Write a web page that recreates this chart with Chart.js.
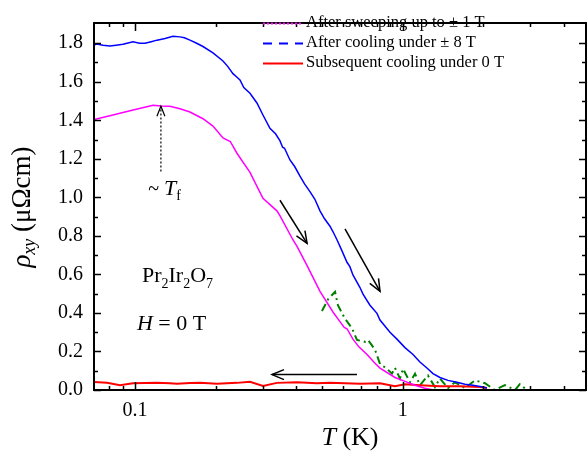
<!DOCTYPE html>
<html><head><meta charset="utf-8">
<script src="https://cdn.jsdelivr.net/npm/chart.js@4.4.1/dist/chart.umd.min.js"></script>
<style>html,body{margin:0;padding:0;background:#fff}#wrap{width:587px;height:454px;position:relative}</style>
</head><body><div id="wrap"><canvas id="c"></canvas></div>
<script>
// ---------- data ----------
const blueT=[0.0703,0.0719,0.0760,0.0806,0.0850,0.0902,0.0983,0.104,0.109,0.115,0.1209,0.1295,0.1387,0.1473,0.1530,0.1605,0.170,0.1795,0.1956,0.2132,0.222,0.2323,0.240,0.2467,0.255,0.2689,0.2855,0.300,0.3193,0.335,0.3479,0.356,0.362,0.3793,0.395,0.4134,0.43,0.4504,0.47,0.4911,0.51,0.5351,0.55,0.5683,0.59,0.6194,0.635,0.652,0.6927,0.711,0.7548,0.8017,0.8228,0.8965,0.952,1.02,1.093,1.16,1.232,1.298,1.378,1.476,1.595,1.709,1.83,1.945,2.065];
const blueRho=[1.79,1.796,1.79,1.786,1.79,1.795,1.807,1.80,1.80,1.808,1.816,1.825,1.836,1.833,1.828,1.816,1.80,1.783,1.75,1.708,1.68,1.642,1.625,1.609,1.57,1.54,1.49,1.43,1.358,1.33,1.294,1.26,1.255,1.194,1.16,1.11,1.07,1.03,0.99,0.93,0.89,0.85,0.82,0.78,0.73,0.663,0.64,0.597,0.532,0.4975,0.44,0.398,0.363,0.30,0.264,0.22,0.184,0.145,0.114,0.085,0.065,0.05,0.04,0.03,0.025,0.018,0.01];

const magT=[0.0703,0.0806,0.0958,0.1168,0.125,0.135,0.1473,0.1605,0.1795,0.1956,0.2132,0.227,0.2404,0.2689,0.3007,0.339,0.3479,0.389,0.403,0.439,0.4911,0.549,0.583,0.605,0.6194,0.652,0.686,0.736,0.788,0.8228,0.936,1.02,1.112,1.2,1.3];
const magRho=[1.404,1.424,1.449,1.478,1.474,1.473,1.46,1.443,1.408,1.37,1.308,1.29,1.229,1.13,0.995,0.93,0.905,0.78,0.746,0.647,0.512,0.405,0.355,0.325,0.318,0.264,0.224,0.184,0.139,0.114,0.065,0.045,0.025,0.01,0];

const redT=[0.0703,0.0787,0.0879,0.0983,0.109,0.1209,0.135,0.1435,0.1605,0.175,0.2026,0.2404,0.2689,0.3007,0.339,0.403,0.478,0.535,0.609,0.6927,0.8228,0.936,1.02,1.16,1.378,1.637,1.945,2.065];
const redRho=[0.041,0.038,0.025,0.035,0.036,0.037,0.035,0.033,0.036,0.038,0.033,0.037,0.043,0.021,0.037,0.04,0.035,0.038,0.035,0.032,0.035,0.02,0.03,0.025,0.02,0.02,0.015,0.01];

const greenT=[0.4994,0.526,0.559,0.573,0.609,0.647,0.675,0.723,0.742,0.788,0.823,0.874,0.912,0.936,0.977,1.003,1.065,1.112,1.16,1.243,1.32,1.378,1.476,1.568,1.709,1.862,2.03,2.21,2.41,2.63,2.74,2.91];
const greenRho=[0.41,0.47,0.51,0.44,0.37,0.32,0.26,0.25,0.26,0.21,0.135,0.11,0.085,0.115,0.06,0.11,0.04,0.085,0.025,0.075,0.015,0.06,0.01,0.04,0.01,0.05,0.035,0,0.025,0,0.03,0];

const seriesLabels=['After sweeping up to \u00b1 1 T','After cooling under \u00b1 8 T','Subsequent cooling under 0 T'];
const xMajorTicks=[0.1,1];
const xMinorTicks=[0.08,0.09,0.2,0.3,0.4,0.5,0.6,0.7,0.8,0.9,2,3,4];
const yMajorTicks=[0,0.2,0.4,0.6,0.8,1.0,1.2,1.4,1.6,1.8];
const yMinorTicks=[0.1,0.3,0.5,0.7,0.9,1.1,1.3,1.5,1.7];

// annotations in data coordinates
const arrows=[{from:[0.348,0.985],to:[0.4395,0.761]},{from:[0.609,0.836],to:[0.823,0.512]},{from:[0.675,0.08],to:[0.325,0.08]}];
const tfArrow={from:[0.125,1.134],to:[0.125,1.473]};

// ---------- chart ----------
const FONT='"Liberation Serif","Times New Roman",serif';
Chart.defaults.font.family=FONT;
Chart.defaults.color='#000';
const pts=(t,r)=>t.map((v,i)=>({x:v,y:r[i]}));

function runsWidth(ctx,runs){let w=0;for(const r of runs){ctx.font=(r.it?'italic ':'')+r.size+'px '+FONT;w+=ctx.measureText(r.t).width;}return w;}
function drawRuns(ctx,runs,x,y){for(const r of runs){ctx.font=(r.it?'italic ':'')+r.size+'px '+FONT;ctx.fillText(r.t,x,y+(r.dy||0));x+=ctx.measureText(r.t).width;}}
function arrow(ctx,x0,y0,x1,y1,L,W){
  ctx.beginPath();ctx.moveTo(x0,y0);ctx.lineTo(x1,y1);ctx.stroke();
  const a=Math.atan2(y1-y0,x1-x0);ctx.setLineDash([]);
  ctx.beginPath();
  ctx.moveTo(x1-L*Math.cos(a)+W*Math.sin(a),y1-L*Math.sin(a)-W*Math.cos(a));
  ctx.lineTo(x1,y1);
  ctx.lineTo(x1-L*Math.cos(a)-W*Math.sin(a),y1-L*Math.sin(a)+W*Math.cos(a));
  ctx.stroke();
}

const deco={id:'deco',afterDraw(chart){
  const ctx=chart.ctx,xs=chart.scales.x,ys=chart.scales.y,a=chart.chartArea;
  ctx.save();
  ctx.strokeStyle='#000';ctx.fillStyle='#000';
  // frame
  ctx.lineWidth=2;ctx.strokeRect(a.left,a.top,a.right-a.left,a.bottom-a.top);
  // inward ticks
  ctx.lineWidth=1.5;ctx.beginPath();
  const xt=(v,l)=>{const p=Math.round(xs.getPixelForValue(v))+0.5;ctx.moveTo(p,a.bottom);ctx.lineTo(p,a.bottom-l);ctx.moveTo(p,a.top);ctx.lineTo(p,a.top+l);};
  const yt=(v,l)=>{const p=Math.round(ys.getPixelForValue(v))+0.5;ctx.moveTo(a.left,p);ctx.lineTo(a.left+l,p);ctx.moveTo(a.right,p);ctx.lineTo(a.right-l,p);};
  xMajorTicks.forEach(v=>xt(v,8));xMinorTicks.forEach(v=>xt(v,4));
  yMajorTicks.forEach(v=>yt(v,7));yMinorTicks.forEach(v=>yt(v,4));
  ctx.stroke();
  // arrows
  ctx.lineWidth=1.5;
  for(const ar of arrows){const p0=[xs.getPixelForValue(ar.from[0]),ys.getPixelForValue(ar.from[1])],p1=[xs.getPixelForValue(ar.to[0]),ys.getPixelForValue(ar.to[1])];arrow(ctx,p0[0],p0[1],p1[0],p1[1],12,5);}
  ctx.lineWidth=1.2;ctx.setLineDash([2,2]);
  arrow(ctx,xs.getPixelForValue(tfArrow.from[0]),ys.getPixelForValue(tfArrow.from[1]),xs.getPixelForValue(tfArrow.to[0]),ys.getPixelForValue(tfArrow.to[1]),10,4);
  ctx.setLineDash([]);
  // legend
  const ds=chart.data.datasets;
  const legDash=[[2,2],[9,7],[]];
  ctx.textBaseline='middle';
  for(let i=0;i<3;i++){
    const y=23+i*20;
    ctx.strokeStyle=ds[i].borderColor;ctx.lineWidth=2;ctx.setLineDash(legDash[i]);
    ctx.beginPath();ctx.moveTo(263,y+0.5);ctx.lineTo(303,y+0.5);ctx.stroke();
    ctx.setLineDash([]);ctx.font='16.5px '+FONT;ctx.fillStyle='#000';ctx.fillText(seriesLabels[i],306,y);
  }
  ctx.textBaseline='alphabetic';ctx.textAlign='left';
  // sample label texts
  const P=(t,r)=>[xs.getPixelForValue(t),ys.getPixelForValue(r)];
  let q=P(0.1062,0.56);
  drawRuns(ctx,[{t:'Pr',size:22},{t:'2',size:14,dy:6},{t:'Ir',size:22},{t:'2',size:14,dy:6},{t:'O',size:22},{t:'7',size:14,dy:6}],q[0],q[1]);
  q=P(0.1017,0.31);
  drawRuns(ctx,[{t:'H',size:22,it:true},{t:' = 0 T',size:22}],q[0],q[1]);
  q=P(0.112,1.01);
  drawRuns(ctx,[{t:'~ ',size:20},{t:'T',size:22,it:true},{t:'f',size:14,dy:5}],q[0],q[1]);
  // x title
  const xr=[{t:'T',size:26,it:true},{t:' (K)',size:26}];
  const xw=runsWidth(ctx,xr);drawRuns(ctx,xr,350-xw/2,445);
  // y title
  ctx.translate(22,207);ctx.rotate(-Math.PI/2);
  const yr=[{t:'\u03c1',size:27,it:true},{t:'xy',size:18,it:true,dy:5},{t:' (\u03bc\u03a9cm)',size:27}];
  const yw=runsWidth(ctx,yr);drawRuns(ctx,yr,-yw/2,8);
  ctx.restore();
}};

new Chart(document.getElementById('c'),{
  type:'line',
  data:{datasets:[
    {label:seriesLabels[0],data:pts(magT,magRho),borderColor:'#ff00ff',borderWidth:1.5},
    {label:seriesLabels[1],data:pts(blueT,blueRho),borderColor:'#0000ff',borderWidth:1.5},
    {label:seriesLabels[2],data:pts(redT,redRho),borderColor:'#ff0000',borderWidth:2},
    {label:'',data:pts(greenT,greenRho),borderColor:'#008000',borderWidth:2,borderDash:[8,4,2,4]}
  ]},
  options:{
    responsive:true,maintainAspectRatio:false,animation:false,
    devicePixelRatio:1,
    elements:{point:{radius:0},line:{tension:0,fill:false}},
    layout:{padding:{top:7,right:1,left:0,bottom:0}},
    plugins:{legend:{display:false},tooltip:{enabled:false}},
    scales:{
      x:{type:'logarithmic',min:0.0703,max:4.84,
        grid:{display:false,drawTicks:false},border:{display:false},
        afterBuildTicks:s=>{s.ticks=xMajorTicks.map(v=>({value:v}));},
        afterFit:s=>{s.height=64;},
        ticks:{autoSkip:false,maxRotation:0,padding:9,font:{size:20},callback:v=>String(v)}},
      y:{type:'linear',min:0,max:1.905,
        grid:{display:false,drawTicks:false},border:{display:false},
        afterBuildTicks:s=>{s.ticks=yMajorTicks.map(v=>({value:v}));},
        afterFit:s=>{s.width=94;},
        ticks:{autoSkip:false,padding:11,font:{size:20},callback:v=>Number(v).toFixed(1)}}
    }
  },
  plugins:[deco]
});
</script></body></html>
